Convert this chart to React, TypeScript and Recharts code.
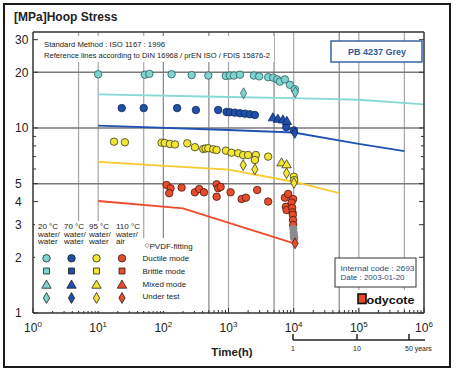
import React from "react";
import {
  ComposedChart,
  Scatter,
  Line,
  XAxis,
  YAxis,
  ReferenceLine,
  Symbols,
} from "recharts";

type Pt = { t: number; s: number };

// axes
const xMajor = [1, 10, 100, 1000, 10000, 100000, 1000000];
const xExp = ["0", "1", "2", "3", "4", "5", "6"];
const xMinor = [2, 3, 4, 5, 6, 7, 8, 9];
const xTicks = [
  ...xMajor,
  ...xMajor.slice(0, -1).flatMap((d) => xMinor.map((m) => m * d)),
].sort((a, b) => a - b);
const yLabeled = [1, 2, 3, 4, 5, 10, 20, 30];
const yMinor = [6, 7, 8, 9];
const yTicks = [...yLabeled, ...yMinor].sort((a, b) => a - b);
const xGridLight = [5, 10, 50, 1000, 10000, 100000, 500000];
const xGridDark = [100, 500, 5000, 50000];
const yGrid = [5, 10, 20];

// 20 °C water/water
const cyanDuctile: Pt[] = [
  { t: 10, s: 19.5 }, { t: 52, s: 19.4 }, { t: 61, s: 19.6 }, { t: 134, s: 19.5 },
  { t: 272, s: 19.3 }, { t: 490, s: 19.2 }, { t: 910, s: 19.1 }, { t: 1050, s: 19.2 },
  { t: 1210, s: 19.2 }, { t: 1500, s: 19.4 }, { t: 2450, s: 19.2 }, { t: 2960, s: 19.0 },
  { t: 4060, s: 18.8 }, { t: 4850, s: 18.7 }, { t: 5600, s: 18.3 }, { t: 6140, s: 17.8 },
  { t: 7330, s: 18.3 }, { t: 8740, s: 17.1 }, { t: 10400, s: 16.2 },
];
const cyanUnderTest: Pt[] = [{ t: 1700, s: 15.4 }, { t: 10600, s: 15.6 }];

// 70 °C water/water
const blueDuctile: Pt[] = [
  { t: 23, s: 12.8 }, { t: 50, s: 12.8 }, { t: 163, s: 12.8 }, { t: 316, s: 12.5 },
  { t: 695, s: 12.5 }, { t: 935, s: 12.2 }, { t: 1050, s: 12.15 }, { t: 1250, s: 12.1 },
  { t: 1500, s: 12.0 }, { t: 1780, s: 11.95 }, { t: 2130, s: 11.85 }, { t: 2540, s: 11.75 },
  { t: 7700, s: 10.1 }, { t: 10100, s: 9.7 },
];
const blueMixed: Pt[] = [
  { t: 4800, s: 11.3 }, { t: 5730, s: 11.1 }, { t: 6830, s: 11.0 }, { t: 7870, s: 10.8 },
];
const blueUnderTest: Pt[] = [{ t: 10400, s: 9.4 }];

// 95 °C water/water
const yellowDuctile: Pt[] = [
  { t: 17.5, s: 8.43 }, { t: 25.7, s: 8.37 }, { t: 94, s: 8.33 }, { t: 105, s: 8.3 },
  { t: 126, s: 8.2 }, { t: 151, s: 8.15 }, { t: 233, s: 8.26 }, { t: 305, s: 7.87 },
  { t: 410, s: 7.7 }, { t: 445, s: 7.75 }, { t: 489, s: 7.77 }, { t: 583, s: 7.67 },
  { t: 657, s: 7.6 }, { t: 912, s: 7.54 }, { t: 1115, s: 7.35 }, { t: 1410, s: 7.3 },
  { t: 1680, s: 7.14 }, { t: 2000, s: 7.14 }, { t: 2630, s: 7.14 }, { t: 2540, s: 6.71 },
  { t: 4060, s: 7.0 }, { t: 10070, s: 5.45 }, { t: 10200, s: 5.23 },
];
const yellowMixed: Pt[] = [{ t: 6520, s: 6.45 }, { t: 7780, s: 6.3 }];
const yellowUnderTest: Pt[] = [
  { t: 1680, s: 6.3 }, { t: 2540, s: 5.98 }, { t: 7780, s: 5.69 }, { t: 10100, s: 5.04 },
];

// 110 °C water/air
const redDuctile: Pt[] = [
  { t: 112, s: 4.92 }, { t: 129, s: 4.72 }, { t: 123, s: 4.44 }, { t: 191, s: 4.76 },
  { t: 305, s: 4.49 }, { t: 355, s: 4.68 }, { t: 420, s: 4.49 }, { t: 657, s: 4.96 },
  { t: 695, s: 4.72 }, { t: 757, s: 4.8 }, { t: 657, s: 4.25 }, { t: 1077, s: 4.49 },
  { t: 1590, s: 4.13 }, { t: 1850, s: 4.2 }, { t: 2755, s: 4.62 }, { t: 4060, s: 4.0 },
  { t: 7330, s: 4.2 }, { t: 8240, s: 4.4 }, { t: 9820, s: 4.13 }, { t: 7590, s: 3.75 },
  { t: 7780, s: 3.6 }, { t: 9290, s: 3.95 }, { t: 9500, s: 3.7 }, { t: 9600, s: 3.5 },
  { t: 9700, s: 3.39 }, { t: 9800, s: 3.18 }, { t: 9820, s: 2.99 },
];
const redUnderTest: Pt[] = [{ t: 10500, s: 2.38 }];
const pvdf: Pt[] = [
  { t: 9900, s: 2.85 }, { t: 10000, s: 2.71 }, { t: 10100, s: 2.6 }, { t: 10200, s: 2.54 },
];

// reference lines
const cyanRef: Pt[] = [
  { t: 10, s: 15.2 }, { t: 1000, s: 14.7 }, { t: 10000, s: 14.5 },
  { t: 100000, s: 14.2 }, { t: 1000000, s: 13.4 },
];
const blueRef: Pt[] = [
  { t: 10, s: 10.3 }, { t: 1000, s: 9.75 }, { t: 10000, s: 9.45 },
  { t: 100000, s: 8.2 }, { t: 500000, s: 7.5 },
];
const yellowRef: Pt[] = [
  { t: 10, s: 6.55 }, { t: 1000, s: 5.95 }, { t: 10000, s: 5.12 }, { t: 50000, s: 4.45 },
];
const redRef: Pt[] = [{ t: 10, s: 4.03 }, { t: 200, s: 3.68 }, { t: 10400, s: 2.37 }];

const C = {
  cyan: "#7fd3cf",
  blue: "#1f4fa6",
  yellow: "#f3e534",
  red: "#e84c2c",
  gray: "#8c8c8c",
};

const sizes: Record<string, number> = { circle: 44, square: 36, triangle: 38, diamond: 34 };

const legendCols = [
  { head: ["20 °C", "water/", "water"], color: C.cyan },
  { head: ["70 °C", "water/", "water"], color: C.blue },
  { head: ["95 °C", "water/", "water"], color: C.yellow },
  { head: ["110 °C", "water/", "air"], color: C.red },
];
const legendRows: { label: string; type: any }[] = [
  { label: "Ductile mode", type: "circle" },
  { label: "Brittle mode", type: "square" },
  { label: "Mixed mode", type: "triangle" },
  { label: "Under test", type: "diamond" },
];

const font = '"Liberation Sans", Arial, Helvetica, sans-serif';
const axisStroke = { stroke: "#333", strokeWidth: 1.5 };

const BottomTick = (p: any) => {
  const v = p.payload.value;
  const i = xMajor.indexOf(v);
  return (
    <g>
      <line x1={p.x} x2={p.x} y1={p.y} y2={p.y - (i >= 0 ? 5 : 3)} stroke="#333" />
      {i >= 0 && (
        <text x={p.x} y={p.y + 19} textAnchor="middle" fontSize={12} fill="#222">
          10
          <tspan dy={-5} fontSize={8}>
            {xExp[i]}
          </tspan>
        </text>
      )}
    </g>
  );
};

const TopTick = (p: any) => {
  const major = xMajor.includes(p.payload.value);
  return <line x1={p.x} x2={p.x} y1={p.y} y2={p.y + (major ? 5 : 3)} stroke="#333" />;
};

const LeftTick = (p: any) => {
  const v = p.payload.value;
  const lab = yLabeled.includes(v);
  return (
    <g>
      <line x1={p.x} x2={p.x + (lab ? 5 : 3)} y1={p.y} y2={p.y} stroke="#333" />
      {lab && (
        <text x={15} y={p.y} dy="0.36em" fontSize={12} fill="#222">
          {v}
        </text>
      )}
    </g>
  );
};

const RightTick = (p: any) => {
  const lab = yLabeled.includes(p.payload.value);
  return <line x1={p.x} x2={p.x - (lab ? 5 : 3)} y1={p.y} y2={p.y} stroke="#333" />;
};

const pts = (key: string, data: Pt[], type: any, fill: string, stroke = "#1c1c1c") => (
  <Scatter
    key={key}
    data={data}
    fill={fill}
    isAnimationActive={false}
    shape={(p: any) => (
      <Symbols
        type={type}
        cx={p.cx}
        cy={p.cy}
        size={sizes[type]}
        fill={fill}
        stroke={stroke}
        strokeWidth={0.8}
      />
    )}
  />
);

const refLine = (key: string, data: Pt[], color: string) => (
  <Line
    key={key}
    data={data}
    dataKey="s"
    type="linear"
    stroke={color}
    strokeWidth={1.8}
    dot={false}
    activeDot={false}
    isAnimationActive={false}
  />
);

export default function App() {
  return (
    <div
      style={{
        position: "absolute",
        left: 0,
        top: 0,
        width: 458,
        height: 373,
        background: "#fff",
        fontFamily: font,
      }}
    >
      <ComposedChart width={458} height={373} margin={{ top: 0, right: 0, bottom: 0, left: 0 }}>
        <XAxis
          dataKey="t"
          type="number"
          scale="log"
          domain={[1, 1000000]}
          allowDataOverflow
          ticks={xTicks}
          interval={0}
          tickLine={false}
          tickSize={0}
          tickMargin={0}
          height={60}
          axisLine={axisStroke}
          tick={(p: any) => <BottomTick {...p} />}
        />
        <XAxis
          xAxisId="top"
          orientation="top"
          type="number"
          scale="log"
          domain={[1, 1000000]}
          allowDataOverflow
          ticks={xTicks}
          interval={0}
          tickLine={false}
          tickSize={0}
          tickMargin={0}
          height={32}
          axisLine={axisStroke}
          tick={(p: any) => <TopTick {...p} />}
        />
        <YAxis
          dataKey="s"
          type="number"
          scale="log"
          domain={[1, 33]}
          allowDataOverflow
          ticks={yTicks}
          interval={0}
          tickLine={false}
          tickSize={0}
          tickMargin={0}
          width={33}
          axisLine={axisStroke}
          tick={(p: any) => <LeftTick {...p} />}
        />
        <YAxis
          yAxisId="right"
          orientation="right"
          type="number"
          scale="log"
          domain={[1, 33]}
          allowDataOverflow
          ticks={yTicks}
          interval={0}
          tickLine={false}
          tickSize={0}
          tickMargin={0}
          width={34}
          axisLine={axisStroke}
          tick={(p: any) => <RightTick {...p} />}
        />

        {xGridLight.map((v) => (
          <ReferenceLine key={"gl" + v} x={v} stroke="#a6a6a6" strokeWidth={1.2} />
        ))}
        {xGridDark.map((v) => (
          <ReferenceLine key={"gd" + v} x={v} stroke="#858585" strokeWidth={1.2} />
        ))}
        {yGrid.map((v) => (
          <ReferenceLine key={"gy" + v} y={v} stroke="#7a7a7a" strokeWidth={1.5} />
        ))}

        {refLine("cr", cyanRef, "#88d9d6")}
        {refLine("br", blueRef, "#2152b2")}
        {refLine("yr", yellowRef, "#f7cb2e")}
        {refLine("rr", redRef, "#ee4b2b")}

        {pts("cd", cyanDuctile, "circle", C.cyan, "#2b5f60")}
        {pts("cu", cyanUnderTest, "diamond", C.cyan, "#2b5f60")}
        {pts("bd", blueDuctile, "circle", C.blue, "#0f2a5e")}
        {pts("bm", blueMixed, "triangle", C.blue, "#0f2a5e")}
        {pts("bu", blueUnderTest, "diamond", C.blue, "#0f2a5e")}
        {pts("yd", yellowDuctile, "circle", C.yellow, "#3a3a20")}
        {pts("ym", yellowMixed, "triangle", C.yellow, "#3a3a20")}
        {pts("yu", yellowUnderTest, "diamond", C.yellow, "#3a3a20")}
        {pts("rd", redDuctile, "circle", C.red, "#4a1a10")}
        {pts("pv", pvdf, "circle", C.gray, "#8c8c8c")}
        {pts("ru", redUnderTest, "diamond", C.red, "#4a1a10")}
      </ComposedChart>

      <svg
        width={458}
        height={373}
        style={{ position: "absolute", left: 0, top: 0, pointerEvents: "none" }}
        fontFamily={font}
      >
        <rect x={4} y={4} width={446} height={363} fill="none" stroke="#1a1a1a" strokeWidth={2} />
        <text x={14} y={21} fontSize={12} fontWeight="bold" fill="#222">
          [MPa]Hoop Stress
        </text>

        {/* notes */}
        <rect x={38} y={36} width={236} height={26} fill="#fff" />
        <text x={44} y={47} fontSize={8} fill="#222" textLength={121} lengthAdjust="spacingAndGlyphs">
          Standard Method : ISO 1167 : 1996
        </text>
        <text x={44} y={57.5} fontSize={8} fill="#222" textLength={226} lengthAdjust="spacingAndGlyphs">
          Reference lines according to DIN 16968 / prEN ISO / FDIS 15876-2
        </text>

        <rect x={331} y={41} width={91} height={21} fill="#fff" stroke="#3a64a8" strokeWidth={1.5} />
        <text x={377} y={54.5} fontSize={9} fontWeight="bold" fill="#2d5a98" textAnchor="middle">
          PB 4237 Grey
        </text>

        {/* legend */}
        <rect x={35} y={221} width={106} height={90} fill="#fff" />
        <rect x={140} y={238} width={65} height={73} fill="#fff" />
        {legendCols.map((c, i) => (
          <g key={"lc" + i}>
            {c.head.map((h, j) => (
              <text key={j} x={[38, 64, 89, 116][i]} y={229 + j * 7.5} fontSize={8} fill="#222">
                {h}
              </text>
            ))}
            {legendRows.map((r, j) => (
              <Symbols
                key={"s" + j}
                type={r.type}
                cx={[46.5, 71.5, 96.5, 122][i]}
                cy={[258.3, 271, 285.5, 298][j]}
                size={sizes[r.type]}
                fill={c.color}
                stroke="#222"
                strokeWidth={0.8}
              />
            ))}
          </g>
        ))}
        {legendRows.map((r, j) => (
          <text key={"ll" + j} x={142.5} y={[261, 274, 286.5, 298.5][j]} fontSize={8} fill="#222">
            {r.label}
          </text>
        ))}
        <circle cx={147} cy={245.5} r={1.8} fill="#fff" stroke="#888" strokeWidth={0.7} />
        <text x={149.5} y={248.5} fontSize={8} fill="#222">
          PVDF-fitting
        </text>

        {/* info box */}
        <rect x={335} y={258} width={81} height={29} fill="#fff" stroke="#333" strokeWidth={1} />
        <text x={340.5} y={270.5} fontSize={8} fill="#2a4a7a" textLength={74} lengthAdjust="spacingAndGlyphs">
          Internal code : 2693
        </text>
        <text x={340.5} y={280} fontSize={8} fill="#2a4a7a" textLength={64} lengthAdjust="spacingAndGlyphs">
          Date : 2003-01-20
        </text>
        <rect x={355} y={290} width={63} height={18} fill="#fff" />
        <rect x={358} y={294} width={8} height={9.5} fill="#e8492a" stroke="#111" strokeWidth={1.6} />
        <text x={366.5} y={304} fontSize={11} fontWeight="bold" fill="#111" textLength={48} lengthAdjust="spacingAndGlyphs">
          odycote
        </text>

        {/* time axis title and years scale */}
        <text x={232} y={356} fontSize={11.5} fontWeight="bold" fill="#222" textAnchor="middle">
          Time(h)
        </text>
        <line x1={293} x2={425} y1={340} y2={340} stroke="#222" strokeWidth={1.5} />
        {[293, 357, 409].map((x) => (
          <line key={"yt" + x} x1={x} x2={x} y1={334} y2={340} stroke="#222" strokeWidth={1.5} />
        ))}
        <text x={293} y={351} fontSize={7} fill="#222" textAnchor="middle">
          1
        </text>
        <text x={357} y={351} fontSize={7} fill="#222" textAnchor="middle">
          10
        </text>
        <text x={405} y={351} fontSize={7} fill="#222">
          50 years
        </text>
      </svg>
    </div>
  );
}
